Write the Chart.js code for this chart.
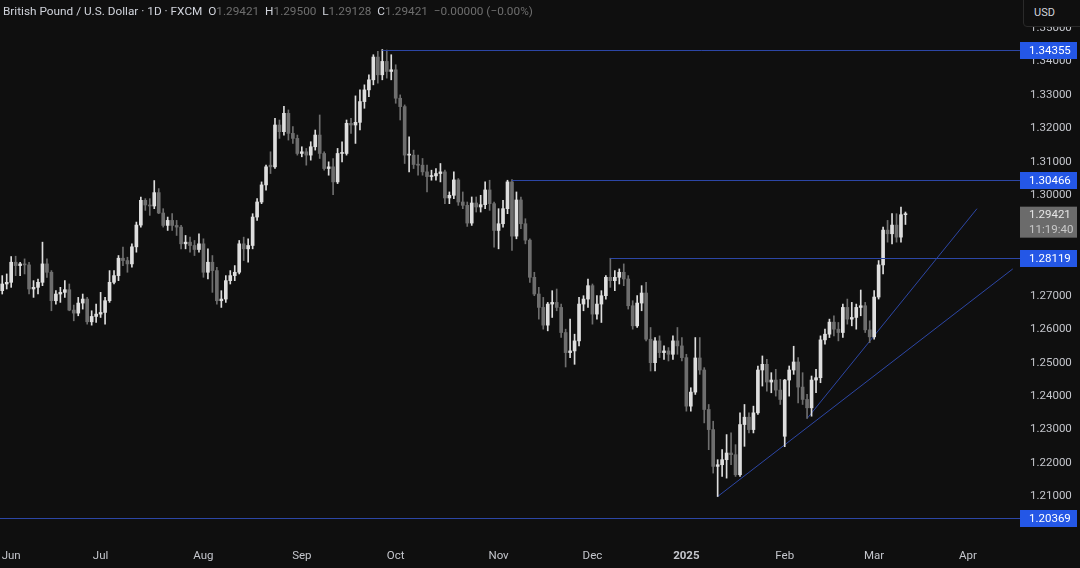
<!DOCTYPE html>
<html>
<head>
<meta charset="utf-8">
<script src="https://cdn.jsdelivr.net/npm/chart.js@4.4.1/dist/chart.umd.min.js"></script>
<style>
html, body { margin: 0; padding: 0; background: #0f0f0f; }
#wrap { position: relative; width: 1080px; height: 568px; overflow: hidden; }
#header { position: absolute; left: 3px; top: 4px; font: 11.8px Roboto, sans-serif; color: #d1d4dc; white-space: pre; }
#header .v { color: #6e6e6e; }
#usd { position: absolute; left: 1023px; top: -1px; width: 60px; height: 28px; background: #0f0f0f; border: 1px solid #2a2a2a;
       border-radius: 0 0 0 4px; color: #d1d4dc; font: 11px Roboto, sans-serif; box-sizing: border-box; padding: 6px 0 0 10px; }
</style>
</head>
<body>
<div id="wrap">
  <canvas id="chart" width="1080" height="568"></canvas>
  <div id="header">British Pound / U.S. Dollar · 1D · FXCM  O<span class="v">1.29421</span>  H<span class="v">1.29500</span>  L<span class="v">1.29128</span>  C<span class="v">1.29421</span>  <span class="v">−0.00000 (−0.00%)</span></div>
  <div id="usd">USD</div>
</div>
<script>
// daily GBP/USD candles, 30 May 2024 .. 12 Mar 2025 (trading days only)
const opens = [
  1.2715, 1.2735,
  1.2740, 1.2800, 1.2790, 1.2795, 1.2792, 1.2720, 1.2725, 1.2740, 1.2795, 1.2770, 1.2685, 1.2705, 1.2710, 1.2718, 1.2657, 1.2648, 1.2678, 1.2690, 1.2622, 1.2638,
  1.2645, 1.2650, 1.2685, 1.2740, 1.2760, 1.2812, 1.2805, 1.2795, 1.2846, 1.2911, 1.2985, 1.2971, 1.2968, 1.3008, 1.2947, 1.2910, 1.2925, 1.2910, 1.2905, 1.2855, 1.2860, 1.2850, 1.2838,
  1.2855, 1.2770, 1.2800, 1.2775, 1.2685, 1.2690, 1.2745, 1.2760, 1.2770, 1.2855, 1.2840, 1.2850, 1.2935, 1.2980, 1.3031, 1.3090, 1.3085, 1.3210, 1.3190, 1.3245, 1.3185, 1.3170,
  1.3125, 1.3130, 1.3120, 1.3145, 1.3180, 1.3125, 1.3080, 1.3085, 1.3040, 1.3125, 1.3125, 1.3215, 1.3210, 1.3218, 1.3280, 1.3315, 1.3345, 1.3413, 1.3360, 1.3400, 1.3370,
  1.3375, 1.3290, 1.3265, 1.3120, 1.3120, 1.3092, 1.3090, 1.3070, 1.3056, 1.3058, 1.3065, 1.3070, 1.2992, 1.3000, 1.3046, 1.2980, 1.2970, 1.2917, 1.2977, 1.2965, 1.2972, 1.3016, 1.2975,
  1.2895, 1.2915, 1.2960, 1.3040, 1.2878, 1.2986, 1.2915, 1.2866, 1.2755, 1.2705, 1.2665, 1.2612, 1.2675, 1.2680, 1.2665, 1.2590, 1.2530, 1.2535, 1.2565, 1.2675, 1.2690,
  1.2730, 1.2645, 1.2675, 1.2700, 1.2755, 1.2745, 1.2755, 1.2770, 1.2750, 1.2670, 1.2610, 1.2678, 1.2708, 1.2570, 1.2500, 1.2565, 1.2530, 1.2535, 1.2525, 1.2565, 1.2550,
  1.2515, 1.2370, 1.2412, 1.2514, 1.2478, 1.2360, 1.2300, 1.2190, 1.2195, 1.2210, 1.2230, 1.2225, 1.2165, 1.2315, 1.2337, 1.2300, 1.2350, 1.2478, 1.2495, 1.2442, 1.2448, 1.2418,
  1.2280, 1.2448, 1.2478, 1.2502, 1.2427, 1.2390, 1.2365, 1.2448, 1.2455, 1.2568, 1.2585, 1.2621, 1.2600, 1.2590, 1.2665, 1.2630, 1.2635, 1.2665, 1.2670, 1.2598,
  1.2577, 1.2696, 1.2792, 1.2896, 1.2885, 1.2911, 1.2875, 1.29421
];
const highs = [
  1.2760, 1.2765,
  1.2817, 1.2818, 1.2800, 1.2810, 1.2800, 1.2745, 1.2750, 1.2860, 1.2810, 1.2775, 1.2715, 1.2725, 1.2745, 1.2735, 1.2672, 1.2695, 1.2705, 1.2695, 1.2655, 1.2675,
  1.2710, 1.2695, 1.2775, 1.2775, 1.2820, 1.2845, 1.2815, 1.2855, 1.2920, 1.2995, 1.2990, 1.2990, 1.3044, 1.3020, 1.2960, 1.2935, 1.2945, 1.2925, 1.2910, 1.2880, 1.2875, 1.2865, 1.2885,
  1.2870, 1.2840, 1.2820, 1.2785, 1.2715, 1.2760, 1.2775, 1.2790, 1.2865, 1.2875, 1.2870, 1.2945, 1.2990, 1.3040, 1.3090, 1.3130, 1.3230, 1.3225, 1.3266, 1.3255, 1.3205, 1.3180,
  1.3145, 1.3140, 1.3160, 1.3195, 1.3240, 1.3130, 1.3100, 1.3110, 1.3140, 1.3160, 1.3225, 1.3230, 1.3297, 1.3315, 1.3330, 1.3360, 1.3420, 1.3430, 1.34355, 1.3434, 1.3420,
  1.3390, 1.3300, 1.3270, 1.3175, 1.3135, 1.3120, 1.3110, 1.3090, 1.3075, 1.3080, 1.3095, 1.3075, 1.3010, 1.3070, 1.3050, 1.3010, 1.2980, 1.2995, 1.2995, 1.3000, 1.3040, 1.3045, 1.2980,
  1.2960, 1.2985, 1.3045, 1.30466, 1.3010, 1.2995, 1.2930, 1.2870, 1.2770, 1.2725, 1.2695, 1.2680, 1.2715, 1.2720, 1.2675, 1.2600, 1.2630, 1.2585, 1.2695, 1.2700, 1.2750,
  1.2735, 1.2700, 1.2715, 1.2760, 1.28119, 1.2775, 1.2780, 1.2795, 1.2760, 1.2685, 1.2700, 1.2730, 1.2740, 1.2605, 1.2575, 1.2580, 1.2550, 1.2545, 1.2580, 1.2605, 1.2575,
  1.2525, 1.2425, 1.2575, 1.2575, 1.2485, 1.2375, 1.2325, 1.2210, 1.2240, 1.2285, 1.2290, 1.2255, 1.2350, 1.2375, 1.2350, 1.2370, 1.2490, 1.2520, 1.2510, 1.2470, 1.2480, 1.2450,
  1.2450, 1.2490, 1.2549, 1.2515, 1.2470, 1.2405, 1.2460, 1.2480, 1.2580, 1.2600, 1.2630, 1.2640, 1.2620, 1.2675, 1.2690, 1.2680, 1.2675, 1.2717, 1.2680, 1.2625,
  1.2715, 1.2805, 1.2905, 1.2925, 1.2945, 1.2945, 1.2965, 1.29500
];
const lows = [
  1.2705, 1.2720,
  1.2725, 1.2760, 1.2760, 1.2765, 1.2705, 1.2695, 1.2705, 1.2730, 1.2755, 1.2655, 1.2675, 1.2680, 1.2695, 1.2655, 1.2625, 1.2640, 1.2660, 1.2615, 1.2612, 1.2620,
  1.2635, 1.2615, 1.2680, 1.2735, 1.2745, 1.2790, 1.2770, 1.2785, 1.2830, 1.2905, 1.2955, 1.2940, 1.2960, 1.2945, 1.2905, 1.2895, 1.2895, 1.2880, 1.2840, 1.2840, 1.2830, 1.2820, 1.2830,
  1.2755, 1.2750, 1.2710, 1.2675, 1.2665, 1.2680, 1.2735, 1.2745, 1.2765, 1.2805, 1.2800, 1.2840, 1.2925, 1.2975, 1.3015, 1.3065, 1.3080, 1.3170, 1.3180, 1.3165, 1.3155, 1.3120,
  1.3115, 1.3090, 1.3105, 1.3135, 1.3110, 1.3075, 1.3060, 1.3002, 1.3035, 1.3100, 1.3120, 1.3185, 1.3155, 1.3195, 1.3260, 1.3295, 1.3330, 1.3335, 1.3345, 1.3350, 1.3345,
  1.3275, 1.3225, 1.3095, 1.3070, 1.3080, 1.3060, 1.3060, 1.3010, 1.3045, 1.3045, 1.3040, 1.2975, 1.2975, 1.2990, 1.2970, 1.2960, 1.2907, 1.2910, 1.2950, 1.2950, 1.2960, 1.2955, 1.2845,
  1.2840, 1.2905, 1.2945, 1.2835, 1.2870, 1.2900, 1.2855, 1.2740, 1.2700, 1.2630, 1.2600, 1.2595, 1.2635, 1.2655, 1.2575, 1.2487, 1.2515, 1.2495, 1.2550, 1.2655, 1.2665,
  1.2615, 1.2630, 1.2620, 1.2690, 1.2725, 1.2715, 1.2735, 1.2730, 1.2660, 1.2600, 1.2605, 1.2655, 1.2565, 1.2475, 1.2475, 1.2515, 1.2510, 1.2505, 1.2510, 1.2525, 1.2505,
  1.2355, 1.2355, 1.2405, 1.2465, 1.2320, 1.2240, 1.2170, 1.2100, 1.2160, 1.2155, 1.2195, 1.2160, 1.2160, 1.2250, 1.2290, 1.2290, 1.2345, 1.2430, 1.2415, 1.2410, 1.2400, 1.2375,
  1.2249, 1.2400, 1.2465, 1.2380, 1.2375, 1.2333, 1.2340, 1.2410, 1.2440, 1.2555, 1.2575, 1.2580, 1.2565, 1.2575, 1.2615, 1.2610, 1.2600, 1.2640, 1.2590, 1.2560,
  1.2570, 1.2690, 1.2765, 1.2860, 1.2855, 1.2860, 1.2860, 1.29128
];
const closes = [
  1.2735, 1.2740,
  1.2800, 1.2790, 1.2795, 1.2792, 1.2720, 1.2725, 1.2740, 1.2795, 1.2770, 1.2685, 1.2705, 1.2710, 1.2718, 1.2657, 1.2648, 1.2678, 1.2690, 1.2622, 1.2638, 1.2645,
  1.2650, 1.2685, 1.2740, 1.2760, 1.2812, 1.2805, 1.2795, 1.2846, 1.2911, 1.2985, 1.2971, 1.2968, 1.3008, 1.2947, 1.2910, 1.2925, 1.2910, 1.2905, 1.2855, 1.2860, 1.2850, 1.2838, 1.2855,
  1.2770, 1.2800, 1.2775, 1.2685, 1.2690, 1.2745, 1.2760, 1.2770, 1.2855, 1.2840, 1.2850, 1.2935, 1.2980, 1.3031, 1.3085, 1.3085, 1.3210, 1.3190, 1.3245, 1.3185, 1.3170, 1.3125,
  1.3130, 1.3120, 1.3145, 1.3180, 1.3125, 1.3080, 1.3085, 1.3040, 1.3125, 1.3125, 1.3215, 1.3210, 1.3218, 1.3280, 1.3315, 1.3345, 1.3413, 1.3360, 1.3400, 1.3370, 1.3375,
  1.3290, 1.3265, 1.3120, 1.3120, 1.3092, 1.3090, 1.3070, 1.3056, 1.3058, 1.3065, 1.3070, 1.2992, 1.3000, 1.3046, 1.2980, 1.2970, 1.2917, 1.2977, 1.2965, 1.2972, 1.3016, 1.2975, 1.2895,
  1.2915, 1.2960, 1.3040, 1.2878, 1.2986, 1.2915, 1.2866, 1.2755, 1.2705, 1.2665, 1.2612, 1.2675, 1.2680, 1.2665, 1.2590, 1.2530, 1.2535, 1.2565, 1.2675, 1.2690, 1.2730,
  1.2645, 1.2675, 1.2700, 1.2755, 1.2745, 1.2755, 1.2770, 1.2750, 1.2670, 1.2610, 1.2678, 1.2708, 1.2570, 1.2500, 1.2565, 1.2530, 1.2535, 1.2525, 1.2565, 1.2550, 1.2515,
  1.2370, 1.2412, 1.2514, 1.2478, 1.2360, 1.2300, 1.2190, 1.2195, 1.2210, 1.2230, 1.2225, 1.2165, 1.2315, 1.2337, 1.2300, 1.2350, 1.2478, 1.2495, 1.2442, 1.2448, 1.2418, 1.2390,
  1.2448, 1.2478, 1.2502, 1.2427, 1.2390, 1.2365, 1.2448, 1.2455, 1.2568, 1.2585, 1.2621, 1.2600, 1.2590, 1.2665, 1.2630, 1.2635, 1.2665, 1.2670, 1.2598, 1.2577,
  1.2696, 1.2792, 1.2896, 1.2885, 1.2911, 1.2875, 1.2942, 1.29421
];

// horizontal levels: price and the bar where the line starts
const levelPrices = [1.34355, 1.30466, 1.28119, 1.20369];
const levelStarts = [85, 114, 136, 0];

// trendlines: [bar index, price] pairs
const trendA = [[180, 1.2333], [218, 1.2960]];
const trendB = [[160, 1.2100], [226, 1.2780]];

const lastPrice = 1.29421;
const countdown = '11:19:40';

const monthNames = ['Jan', 'Feb', 'Mar', 'Apr', 'May', 'Jun', 'Jul', 'Aug', 'Sep', 'Oct', 'Nov', 'Dec'];
const holidays = ['2024-12-25', '2025-01-01'];

// trading-day labels (includes empty future slots on the right)
const labels = [];
let d = new Date(Date.UTC(2024, 4, 30));
while (labels.length < 227) {
    const iso = d.toISOString().slice(0, 10);
    const wd = d.getUTCDay();
    if (wd !== 0 && wd !== 6 && !holidays.includes(iso)) labels.push(iso);
    d = new Date(d.getTime() + 86400000);
}

const UP = '#dedede';
const DOWN = '#6e6e6e';
const LINE_BLUE = 'rgb(44, 70, 165)';
const TICK_COLOR = '#c4c6cc';
const FONT = 'Roboto, "Noto Sans", sans-serif';

const bodies = opens.map((o, i) => [o, closes[i]]);
const wicks = lows.map((l, i) => [l, highs[i]]);
const candleColors = opens.map((o, i) => closes[i] >= o ? UP : DOWN);

function trendData(pts) {
    return pts.map(p => ({ x: labels[p[0]], y: p[1] }));
}

const bgPlugin = {
    id: 'bg',
    beforeDraw(chart) {
        const ctx = chart.ctx;
        ctx.save();
        ctx.fillStyle = '#0f0f0f';
        ctx.fillRect(0, 0, chart.width, chart.height);
        ctx.restore();
    }
};

// price levels with their axis tags, plus the last-price tag
const levelPlugin = {
    id: 'levels',
    afterDraw(chart) {
        const ctx = chart.ctx;
        const xs = chart.scales.x;
        const ys = chart.scales.y;
        const area = chart.chartArea;
        const boxX = 1020, boxW = 57;
        ctx.save();
        levelPrices.forEach((p, i) => {
            const y = Math.round(ys.getPixelForValue(p)) + 0.5;
            const x0 = levelStarts[i] <= 0 ? area.left : xs.getPixelForValue(levelStarts[i]);
            ctx.strokeStyle = LINE_BLUE;
            ctx.lineWidth = 1;
            ctx.beginPath();
            ctx.moveTo(x0, y);
            ctx.lineTo(boxX, y);
            ctx.stroke();
            ctx.fillStyle = '#2457e6';
            ctx.fillRect(boxX, y - 8.5, boxW, 17);
            ctx.fillStyle = '#ffffff';
            ctx.font = '11.5px ' + FONT;
            ctx.textAlign = 'left';
            ctx.textBaseline = 'middle';
            ctx.fillText(p.toFixed(5), 1029, y + 0.5);
        });
        const ly = ys.getPixelForValue(lastPrice);
        ctx.fillStyle = '#6b6b6b';
        ctx.fillRect(boxX, ly - 8, boxW, 31);
        ctx.fillStyle = '#e6e6e6';
        ctx.font = '11.5px ' + FONT;
        ctx.textAlign = 'left';
        ctx.textBaseline = 'middle';
        ctx.fillText(lastPrice.toFixed(5), 1029, ly);
        ctx.fillStyle = '#c8c8c8';
        ctx.fillText(countdown, 1029, ly + 15);
        ctx.restore();
    }
};

new Chart(document.getElementById('chart'), {
    data: {
        labels: labels,
        datasets: [
            {
                type: 'line',
                data: trendData(trendA),
                borderColor: LINE_BLUE,
                borderWidth: 1,
                pointRadius: 0,
                order: 3
            },
            {
                type: 'line',
                data: trendData(trendB),
                borderColor: LINE_BLUE,
                borderWidth: 1,
                pointRadius: 0,
                order: 3
            },
            {
                type: 'bar',
                data: wicks,
                backgroundColor: candleColors,
                barThickness: 1,
                grouped: false,
                order: 2
            },
            {
                type: 'bar',
                data: bodies,
                backgroundColor: candleColors,
                barThickness: 3,
                minBarLength: 1,
                grouped: false,
                order: 1
            }
        ]
    },
    options: {
        responsive: false,
        animation: false,
        layout: { padding: 0, autoPadding: false },
        plugins: {
            legend: { display: false },
            tooltip: { enabled: false },
            title: { display: false }
        },
        scales: {
            x: {
                type: 'category',
                offset: true,
                grid: { display: false, drawTicks: false },
                border: { display: false },
                ticks: {
                    autoSkip: false,
                    maxRotation: 0,
                    padding: 9,
                    color: TICK_COLOR,
                    font: ctx => ({ family: FONT, size: 11.5, weight: (ctx.tick && ctx.tick.label === '2025') ? 'bold' : 'normal' }),
                    callback: function (value, index) {
                        if (index === 0) return '';
                        const cur = labels[index], prev = labels[index - 1];
                        if (cur.slice(0, 7) === prev.slice(0, 7)) return '';
                        const m = parseInt(cur.slice(5, 7), 10) - 1;
                        return m === 0 ? cur.slice(0, 4) : monthNames[m];
                    }
                },
                afterFit(scale) {
                    scale.height = 28;
                    scale.paddingLeft = 0;
                    scale.paddingRight = 0;
                }
            },
            y: {
                position: 'right',
                min: 1.19701,
                max: 1.35835,
                grid: { display: false, drawTicks: false },
                border: { display: false },
                ticks: {
                    stepSize: 0.01,
                    padding: 15,
                    color: TICK_COLOR,
                    font: { family: FONT, size: 11.5 },
                    callback: v => v.toFixed(5)
                },
                afterBuildTicks(scale) {
                    scale.ticks = scale.ticks.filter(t => Math.abs(t.value * 100 - Math.round(t.value * 100)) < 1e-6);
                },
                afterFit(scale) {
                    scale.width = 65;
                    scale.paddingTop = 0;
                    scale.paddingBottom = 0;
                }
            }
        }
    },
    plugins: [bgPlugin, levelPlugin]
});
</script>
</body>
</html>
